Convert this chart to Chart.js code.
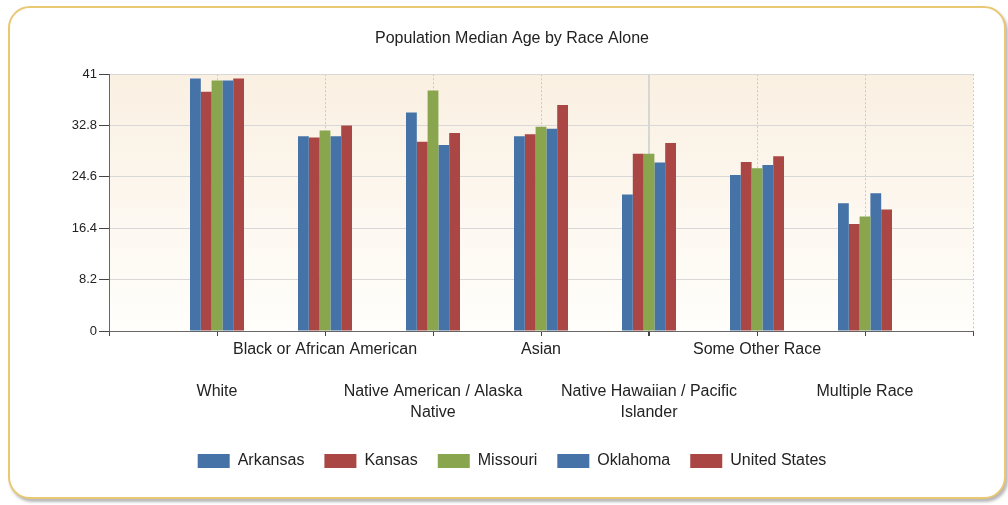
<!DOCTYPE html>
<html>
<head>
<meta charset="utf-8">
<script src="https://cdn.jsdelivr.net/npm/chart.js@4/dist/chart.umd.min.js"></script>
<style>
  html, body { margin: 0; padding: 0; background: #fff; }
  body { width: 1008px; height: 505px; position: relative; overflow: hidden; }
  .frame {
    position: absolute; left: 8px; top: 6px; width: 994px; height: 489px;
    border: 2px solid #E9C874; border-radius: 22px;
    box-shadow: 2px 3px 3px rgba(0, 0, 0, 0.28);
    background: #fff;
  }
  #ageChart { position: absolute; left: 0; top: 0; }
</style>
</head>
<body>
<div class="frame"></div>
<canvas id="ageChart" width="1008" height="505"></canvas>
<script>
// Median age by race, per state
const categories = [
  ['White'],
  ['Black or African American'],
  ['Native American / Alaska', 'Native'],
  ['Asian'],
  ['Native Hawaiian / Pacific', 'Islander'],
  ['Some Other Race'],
  ['Multiple Race']
];
const arkansas     = [40.3, 31.1, 34.9, 31.1, 21.8, 24.9, 20.4];
const kansas       = [38.2, 30.9, 30.2, 31.4, 28.3, 27.0, 17.1];
const missouri     = [40.0, 32.0, 38.4, 32.6, 28.3, 26.0, 18.3];
const oklahoma     = [40.0, 31.1, 29.7, 32.3, 26.9, 26.5, 22.0];
const unitedStates = [40.3, 32.8, 31.6, 36.1, 30.0, 27.9, 19.4];
const yTicks = [0, 8.2, 16.4, 24.6, 32.8, 41];

const FONT = "'Liberation Sans', Arial, sans-serif";
Chart.defaults.font.family = FONT;
Chart.defaults.color = '#222';

// empty slot on each side so the axis runs half a group past the outer bars
const pad = arr => [null, ...arr, null];
const labels = pad(categories.map((c, i) => i));

// alternate label rows: odd categories on the first row, even ones pushed down
function labelLines(i) {
  if (i === 0 || i === categories.length + 1) return '';
  const c = i - 1;
  return c % 2 === 1 ? categories[c] : ['', '', ...categories[c]];
}

const series = [
  { label: 'Arkansas', data: arkansas, color: '#4572A7' },
  { label: 'Kansas', data: kansas, color: '#AA4643' },
  { label: 'Missouri', data: missouri, color: '#89A54E' },
  { label: 'Oklahoma', data: oklahoma, color: '#4572A7' },
  { label: 'United States', data: unitedStates, color: '#AA4643' }
];

// warm fade behind the bars
const plotBackground = {
  id: 'plotBackground',
  beforeDraw(chart) {
    const { ctx, chartArea: a } = chart;
    const g = ctx.createLinearGradient(0, a.top, 0, a.bottom);
    g.addColorStop(0, '#FAF0E2');
    g.addColorStop(1, '#FFFEFB');
    ctx.save();
    ctx.fillStyle = g;
    ctx.fillRect(a.left, a.top, a.right - a.left, a.bottom - a.top);
    ctx.restore();
  }
};

new Chart(document.getElementById('ageChart'), {
  type: 'bar',
  data: {
    labels: labels,
    datasets: series.map(s => ({
      label: s.label,
      data: pad(s.data),
      backgroundColor: s.color,
      borderWidth: 0,
      categoryPercentage: 0.5,
      barPercentage: 1.0
    }))
  },
  options: {
    responsive: false,
    animation: false,
    layout: { padding: { left: 51, right: 35, top: 0, bottom: 26 } },
    plugins: {
      title: {
        display: true,
        text: 'Population Median Age by Race Alone',
        color: '#222',
        font: { size: 16, weight: 'normal' },
        padding: { top: 29, bottom: 26 }
      },
      legend: {
        position: 'bottom',
        labels: {
          boxWidth: 32,
          boxHeight: 14,
          padding: 20,
          color: '#222',
          font: { size: 16 }
        }
      },
      tooltip: { enabled: false }
    },
    scales: {
      x: {
        offset: false,
        afterFit: s => { s.height = 102; },
        grid: {
          offset: false,
          color: c => (c.index === 0 ? 'rgba(0,0,0,0)' : c.index === 5 ? '#D6D6D6' : '#C9C9C9'),
          lineWidth: c => (c.index === 5 ? 2 : 1),
          tickColor: '#444',
          tickLength: 5
        },
        border: {
          color: '#666',
          dash: c => (c.index === undefined || c.index === 5 ? [] : [2, 2])
        },
        ticks: {
          autoSkip: false,
          maxRotation: 0,
          padding: 3,
          color: '#222',
          font: { size: 16, lineHeight: '21px' },
          callback: (v, i) => labelLines(i)
        }
      },
      y: {
        min: 0,
        max: 41,
        afterFit: s => { s.width = 58; },
        afterBuildTicks: s => { s.ticks = yTicks.map(v => ({ value: v })); },
        grid: {
          color: '#D8D8D8',
          tickColor: '#444',
          tickLength: 10
        },
        border: { color: '#666' },
        ticks: {
          padding: 2,
          color: '#222',
          font: { size: 13 },
          callback: v => String(Math.round(v * 10) / 10)
        }
      }
    }
  },
  plugins: [plotBackground]
});
</script>
</body>
</html>
